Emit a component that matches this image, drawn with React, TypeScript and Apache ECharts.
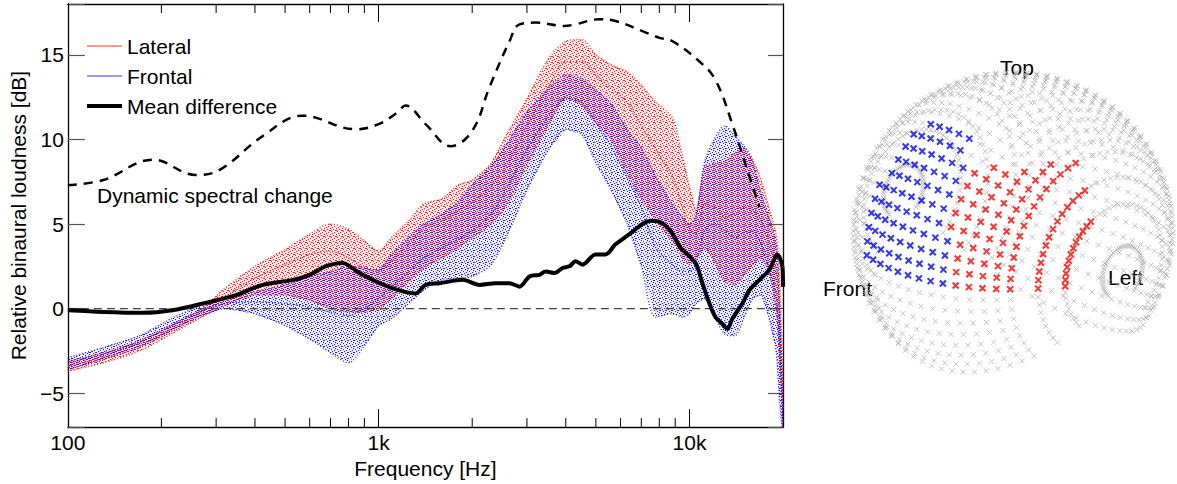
import React, { useEffect, useRef } from "react";
import * as echarts from "echarts";

// ---------- Left panel data ----------
const FREQ = [100, 130, 170, 220, 270, 320, 400, 500, 600, 700, 800, 900, 1000, 1100, 1250, 1400, 1600, 1800, 2000, 2300, 2600, 3000, 3500, 4000, 4500, 5000, 5600, 6300, 7000, 7800, 8800, 9500, 10000, 10500, 11200, 12000, 13000, 14000, 15000, 16000, 17000, 18000, 19000, 19500, 20000];

const RED_UPPER = [-3.1, -2.6, -1.9, -0.9, 0.0, 1.2, 2.5, 3.5, 4.4, 5.0, 4.7, 4.0, 3.4, 4.2, 5.2, 6.2, 6.5, 7.3, 7.6, 8.6, 10.4, 12.4, 14.7, 15.8, 15.9, 15.0, 14.4, 14.0, 13.2, 12.2, 11.3, 9.0, 7.2, 5.8, 8.4, 8.6, 8.7, 9.2, 9.5, 8.8, 7.6, 6.0, 4.4, 2.0, -5.0];
const RED_MID = [-3.4, -2.9, -2.2, -1.1, -0.2, 0.7, 1.8, 2.6, 3.2, 3.4, 3.0, 2.4, 2.2, 2.8, 3.8, 4.8, 5.2, 5.8, 6.3, 7.2, 8.6, 10.8, 13.0, 14.6, 14.6, 13.8, 13.0, 12.2, 10.8, 9.4, 7.8, 6.0, 4.6, 4.4, 6.2, 6.0, 5.4, 5.6, 6.0, 5.8, 5.2, 4.0, 2.4, -0.5, -6.5];
const RED_LOWER = [-3.7, -3.2, -2.5, -1.4, -0.5, 0.2, 0.8, 0.8, 0.5, 0.0, -0.2, -0.2, 0.0, 0.6, 1.6, 2.4, 3.0, 3.6, 4.2, 5.0, 6.2, 8.5, 10.8, 12.5, 12.0, 11.0, 10.0, 8.0, 6.5, 5.2, 4.0, 3.0, 2.6, 3.0, 3.6, 2.8, 1.6, 1.4, 2.0, 2.6, 3.0, 2.2, 0.0, -3.0, -7.5];

const BLUE_UPPER = [-2.9, -2.3, -1.6, -0.5, 0.2, 0.6, 1.0, 1.4, 1.9, 2.2, 2.5, 2.4, 2.3, 3.2, 4.2, 5.0, 5.6, 6.3, 7.3, 8.4, 9.8, 11.6, 13.0, 13.8, 13.6, 12.9, 12.1, 10.6, 9.5, 7.8, 6.2, 5.4, 5.0, 5.5, 8.7, 10.0, 10.8, 10.2, 9.6, 8.6, 6.8, 5.4, 3.8, 0.0, -6.5];
const BLUE_MID = [-3.2, -2.7, -2.0, -0.9, -0.1, 0.3, 0.4, 0.3, 0.1, -0.2, -0.4, 0.0, 0.6, 1.3, 2.2, 3.0, 3.6, 4.1, 4.6, 5.6, 7.2, 9.4, 11.3, 12.4, 12.2, 11.0, 9.6, 7.8, 6.0, 3.6, 2.6, 2.2, 2.2, 2.8, 4.6, 5.0, 4.6, 4.2, 4.5, 4.6, 3.8, 2.4, 0.8, -2.5, -7.0];
const BLUE_LOWER = [-3.6, -3.0, -2.3, -1.2, -0.4, 0.0, -0.3, -1.0, -1.8, -2.6, -3.2, -2.2, -1.0, -0.6, 0.3, 1.1, 1.7, 1.8, 1.9, 2.6, 4.4, 7.0, 9.3, 10.6, 10.3, 8.6, 7.0, 5.0, 2.5, -0.5, -0.3, -0.5, -0.3, 0.3, 0.6, -0.4, -1.5, -1.6, -0.5, 0.6, 0.8, -0.5, -2.5, -5.5, -7.5];

const MEAN_FREQ = [100, 130, 174, 217, 272, 347, 424, 529, 600, 675, 765, 867, 957, 1109, 1315, 1416, 1571, 1862, 2113, 2377, 2637, 2840, 3058, 3294, 3443, 3681, 3905, 4113, 4298, 4529, 4985, 5370, 5780, 6412, 7060, 7492, 8069, 8689, 9355, 10000, 10532, 11010, 11598, 12130, 12764, 13252, 13740, 14800, 15600, 16800, 18080, 19190, 19900, 20000];
const MEAN_DIFF = [-0.1, -0.2, -0.25, -0.1, 0.3, 0.8, 1.4, 1.7, 2.0, 2.5, 2.7, 2.1, 1.7, 1.2, 0.9, 1.4, 1.5, 1.7, 1.4, 1.5, 1.5, 1.3, 1.9, 2.0, 2.2, 2.1, 2.4, 2.5, 2.8, 2.6, 3.2, 3.2, 3.8, 4.4, 5.0, 5.2, 5.1, 4.6, 3.6, 3.1, 2.6, 1.5, 0.3, -0.5, -0.9, -1.2, -0.6, 0.3, 1.1, 1.7, 2.3, 3.2, 2.5, 1.3];

const DYN_FREQ = [100, 130, 188, 258, 308, 424, 570, 844, 1000, 1150, 1220, 1416, 1704, 2000, 2275, 2637, 2840, 3197, 3963, 4298, 5136, 5780, 7060, 8010, 8820, 10770, 12130, 13740, 15600, 16800];
const DYN_CHANGE = [7.3, 7.6, 8.8, 7.9, 8.2, 10.2, 11.4, 10.6, 10.9, 11.6, 12.0, 10.9, 9.6, 10.5, 13.1, 15.8, 16.8, 16.9, 16.7, 16.8, 17.1, 17.0, 16.4, 16.0, 15.8, 14.6, 13.5, 10.9, 7.8, 6.0];

const MINOR_TICKS = [200, 300, 400, 500, 600, 700, 800, 900, 2000, 3000, 4000, 5000, 6000, 7000, 8000, 9000];
const X_TICK_LABELS: Record<number, string> = { 100: "100", 1000: "1k", 10000: "10k" };

// ---------- Right panel (sphere): interaural-polar measurement grid ----------
const VIEW_AZ = 46;
const VIEW_EL = 21;
const LATERAL_ANGLES = [-80, -65, -55, -45, -40, -35, -30, -25, -20, -15, -10, -5, 0, 5, 10, 15, 20, 25, 30, 35, 40, 45, 55, 65, 80];
const POLAR_START = -45;
const POLAR_STEP = 5.625;
const POLAR_COUNT = 50;
// selected source regions, in azimuth / elevation (degrees)
const FRONTAL_REGION = { azMin: -23, azMax: 21, elMin: -1, elMax: 57 };
const LATERAL_REGION = { azMin: 21, azMax: 79, elMin: -1, elMax: 46 };

const FONT = '"Liberation Sans", Arial, Helvetica, sans-serif';

function buildSphere() {
  const rad = Math.PI / 180;
  const a = VIEW_AZ * rad, e = VIEW_EL * rad;
  const d = [Math.cos(e) * Math.cos(a), Math.cos(e) * Math.sin(a), Math.sin(e)];
  const rl = Math.hypot(d[0], d[1]);
  const r = [-d[1] / rl, d[0] / rl, 0];
  const u = [d[1] * r[2] - d[2] * r[1], d[2] * r[0] - d[0] * r[2], d[0] * r[1] - d[1] * r[0]];
  const gray: number[][] = [];
  const red: number[][] = [];
  const blue: number[][] = [];
  const inRegion = (reg: any, az: number, el: number) => az >= reg.azMin && az < reg.azMax && el >= reg.elMin && el <= reg.elMax;
  LATERAL_ANGLES.forEach((lat) => {
    for (let k = 0; k < POLAR_COUNT; k++) {
      const pol = POLAR_START + k * POLAR_STEP;
      const v = [Math.cos(lat * rad) * Math.cos(pol * rad), Math.sin(lat * rad), Math.cos(lat * rad) * Math.sin(pol * rad)];
      const p = [v[0] * r[0] + v[1] * r[1] + v[2] * r[2], v[0] * u[0] + v[1] * u[1] + v[2] * u[2]];
      const az = Math.atan2(v[1], v[0]) / rad;
      const el = Math.asin(Math.max(-1, Math.min(1, v[2]))) / rad;
      if (inRegion(FRONTAL_REGION, az, el)) blue.push(p);
      else if (inRegion(LATERAL_REGION, az, el)) red.push(p);
      else gray.push(p);
    }
  });
  return { gray, red, blue };
}

function makePattern(color: string, dots: number[][], size: number) {
  const c = document.createElement("canvas");
  c.width = size;
  c.height = size;
  const ctx = c.getContext("2d");
  if (ctx) {
    ctx.fillStyle = color;
    dots.forEach(([x, y]) => ctx.fillRect(x, y, 1, 1));
  }
  return { image: c, repeat: "repeat", imageWidth: size, imageHeight: size };
}

const pairs = (xs: number[], ys: number[]) => xs.map((x, i) => [x, ys[i]]);

function bandSeries(upper: number[], lower: number[], tint: string, pattern: any) {
  return {
    type: "custom",
    xAxisIndex: 0,
    yAxisIndex: 0,
    clip: true,
    silent: true,
    data: [[FREQ[0], upper[0]]],
    renderItem: (params: any, api: any) => {
      const pts: number[][] = [];
      for (let i = 0; i < FREQ.length; i++) pts.push(api.coord([FREQ[i], upper[i]]));
      for (let i = FREQ.length - 1; i >= 0; i--) pts.push(api.coord([FREQ[i], lower[i]]));
      return {
        type: "group",
        children: [
          { type: "polygon", shape: { points: pts }, style: { fill: tint } },
          { type: "polygon", shape: { points: pts }, style: { fill: pattern } },
        ],
      };
    },
  };
}

function dottedSeries(ys: number[], color: string) {
  return {
    type: "line",
    xAxisIndex: 0,
    yAxisIndex: 0,
    data: pairs(FREQ, ys),
    showSymbol: false,
    smooth: 0.3,
    silent: true,
    lineStyle: { color, width: 1.3, type: [1, 2], opacity: 0.9 },
  };
}

export default function App() {
  const ref = useRef<HTMLDivElement>(null);
  useEffect(() => {
    if (!ref.current) return;
    const chart = echarts.init(ref.current, undefined, { renderer: "svg" });
    const sphere = buildSphere();
    const redPattern = makePattern("rgba(255,0,0,0.9)", [[0, 0], [3, 1], [1, 3], [4, 4], [2, 5], [5, 2], [0, 2]], 6);
    const bluePattern = makePattern("rgba(0,0,255,0.9)", [[1, 1], [4, 2], [0, 4], [3, 5], [5, 0], [2, 3], [5, 4]], 6);
    const xSym = "path://M0 0L10 10M10 0L0 10";
    const axisLine = { onZero: false, lineStyle: { color: "#000", width: 1.3 } };
    const option: any = {
      animation: false,
      backgroundColor: "#fff",
      textStyle: { fontFamily: FONT },
      grid: [
        { left: 65, top: 4, width: 718, height: 427 },
        { left: 853, top: 72, width: 320, height: 320 },
      ],
      xAxis: [
        {
          gridIndex: 0, type: "log", min: 100, max: 20000, position: "bottom",
          axisLine,
          axisTick: { inside: true, length: 18, lineStyle: { color: "#000", width: 1 } },
          axisLabel: {
            fontSize: 21, color: "#000", fontFamily: FONT, margin: 5,
            formatter: (v: number) => X_TICK_LABELS[Math.round(v)] || "",
          },
          splitLine: { show: false },
          name: "Frequency [Hz]", nameLocation: "middle", nameGap: 24,
          nameTextStyle: { fontSize: 21, color: "#000", fontFamily: FONT },
        },
        {
          gridIndex: 0, type: "log", min: 100, max: 20000, position: "top",
          axisLine,
          axisTick: { inside: true, length: 18, lineStyle: { color: "#000", width: 1 } },
          axisLabel: { show: false },
          splitLine: { show: false },
        },
        { gridIndex: 1, type: "value", min: -1, max: 1, show: false },
      ],
      yAxis: [
        {
          gridIndex: 0, type: "value", min: -7, max: 18,
          axisLine,
          axisTick: { inside: true, length: 17, lineStyle: { color: "#555", width: 1.2 } },
          axisLabel: {
            fontSize: 21, color: "#000", fontFamily: FONT, margin: 4,
            formatter: (v: number) => (Math.round(v) % 5 !== 0 ? "" : v < 0 ? "\u2212" + Math.abs(v) : String(v)),
          },
          splitLine: { show: false },
          name: "Relative binaural loudness [dB]", nameLocation: "middle", nameGap: 33,
          nameTextStyle: { fontSize: 21, color: "#000", fontFamily: FONT },
        },
        {
          gridIndex: 0, type: "value", min: -7, max: 18, position: "right",
          axisLine,
          axisTick: { inside: true, length: 15, lineStyle: { color: "#555", width: 1.2 } },
          axisLabel: { show: false },
          splitLine: { show: false },
        },
        { gridIndex: 1, type: "value", min: -1, max: 1, show: false },
      ],
      series: [
        bandSeries(RED_UPPER, RED_LOWER, "rgba(255,60,60,0.12)", redPattern),
        dottedSeries(RED_UPPER, "#ff0000"),
        dottedSeries(RED_MID, "#ff0000"),
        dottedSeries(RED_LOWER, "#ff0000"),
        bandSeries(BLUE_UPPER, BLUE_LOWER, "rgba(60,60,255,0.09)", bluePattern),
        dottedSeries(BLUE_UPPER, "#0000ff"),
        dottedSeries(BLUE_MID, "#0000ff"),
        dottedSeries(BLUE_LOWER, "#0000ff"),
        {
          type: "line", xAxisIndex: 0, yAxisIndex: 0, silent: true, showSymbol: false,
          data: [[100, 0], [20000, 0]],
          lineStyle: { color: "#444", width: 1.2, type: [8, 5] },
        },
        {
          type: "line", xAxisIndex: 0, yAxisIndex: 0, silent: true, showSymbol: false, smooth: 0.3,
          data: pairs(MEAN_FREQ, MEAN_DIFF),
          lineStyle: { color: "#000", width: 4 },
        },
        {
          type: "line", xAxisIndex: 0, yAxisIndex: 0, silent: true, showSymbol: false, smooth: 0.4,
          data: pairs(DYN_FREQ, DYN_CHANGE),
          lineStyle: { color: "#000", width: 2.5, type: [9, 7] },
        },
        {
          type: "custom", xAxisIndex: 0, yAxisIndex: 0, silent: true, clip: false,
          data: MINOR_TICKS.map((f) => [f, 0]),
          renderItem: (params: any, api: any) => {
            const x = api.coord([api.value(0), 0])[0];
            const cs = params.coordSys;
            const yb = cs.y + cs.height;
            return {
              type: "group",
              children: [
                { type: "line", shape: { x1: x, y1: yb, x2: x, y2: yb - 9 }, style: { stroke: "#000", lineWidth: 1 } },
                { type: "line", shape: { x1: x, y1: cs.y, x2: x, y2: cs.y + 9 }, style: { stroke: "#000", lineWidth: 1 } },
              ],
            };
          },
        },
        {
          type: "scatter", xAxisIndex: 2, yAxisIndex: 2, silent: true,
          data: sphere.gray, symbol: xSym, symbolSize: 5,
          itemStyle: { color: "#b4b4b4", borderColor: "#b4b4b4", borderWidth: 1 },
        },
        {
          type: "scatter", xAxisIndex: 2, yAxisIndex: 2, silent: true,
          data: sphere.red, symbol: xSym, symbolSize: 6,
          itemStyle: { color: "#ff0000", borderColor: "#ff0000", borderWidth: 2 },
        },
        {
          type: "scatter", xAxisIndex: 2, yAxisIndex: 2, silent: true,
          data: sphere.blue, symbol: xSym, symbolSize: 6,
          itemStyle: { color: "#0000ff", borderColor: "#0000ff", borderWidth: 2 },
        },
      ],
      graphic: [
        { type: "line", shape: { x1: 87, y1: 46, x2: 122, y2: 46 }, style: { stroke: "#ff3030", lineWidth: 1 } },
        { type: "line", shape: { x1: 87, y1: 76, x2: 122, y2: 76 }, style: { stroke: "#3030ff", lineWidth: 1 } },
        { type: "line", shape: { x1: 87, y1: 106, x2: 122, y2: 106 }, style: { stroke: "#000", lineWidth: 4 } },
        { type: "text", x: 127, y: 46, style: { text: "Lateral", fontSize: 21, fontFamily: FONT, fill: "#000", verticalAlign: "middle" } },
        { type: "text", x: 127, y: 76, style: { text: "Frontal", fontSize: 21, fontFamily: FONT, fill: "#000", verticalAlign: "middle" } },
        { type: "text", x: 127, y: 106, style: { text: "Mean difference", fontSize: 21, fontFamily: FONT, fill: "#000", verticalAlign: "middle" } },
        { type: "text", x: 97, y: 195, style: { text: "Dynamic spectral change", fontSize: 21, fontFamily: FONT, fill: "#000", verticalAlign: "middle" } },
        { type: "text", x: 1000, y: 67, style: { text: "Top", fontSize: 21, fontFamily: FONT, fill: "#000", verticalAlign: "middle" } },
        { type: "text", x: 823, y: 288, style: { text: "Front", fontSize: 21, fontFamily: FONT, fill: "#000", verticalAlign: "middle" } },
        { type: "text", x: 1108, y: 277, style: { text: "Left", fontSize: 21, fontFamily: FONT, fill: "#000", verticalAlign: "middle" } },
      ],
    };
    chart.setOption(option);
    return () => chart.dispose();
  }, []);
  return <div ref={ref} style={{ position: "fixed", left: 0, top: 0, width: 1177, height: 484 }} />;
}
